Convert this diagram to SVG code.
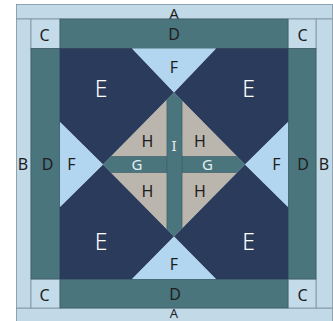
<svg xmlns="http://www.w3.org/2000/svg" width="333" height="321" viewBox="0 0 333 321">
<style>
.a{fill:#c2d9e8;stroke:#7d8f9c;stroke-width:0.8}
.c{fill:#c4dbea;stroke:#7d8f9c;stroke-width:0.8}
.d{fill:#4b757d;stroke:#3e5f68;stroke-width:0.8}
.e{fill:#2a3b5b;stroke:#2a3b5b;stroke-width:0.5}
.f{fill:#b2d6f0;stroke:none}
.h{fill:#bab6ae;stroke:#8a8a86;stroke-width:0.6}
.g{fill:#4b757d;stroke:#3e5f68;stroke-width:0.6}
text{font-family:"Noto Sans","Open Sans",sans-serif;font-size:16px;text-anchor:middle;fill:#1e1e1e}
.w{fill:#ffffff;font-size:23px;font-weight:300}
.lt{fill:#e4eef2}
.sm{font-size:15px}
.xs{font-size:13px}
</style>
<defs>
<clipPath id="dia"><polygon points="174,92.5 245,164.5 174,236.5 103,164.5"/></clipPath>
</defs>
<rect x="0" y="0" width="333" height="321" fill="#ffffff"/>
<g id="A-top"><rect class="a" x="16.5" y="4.5" width="316" height="14.5"/><text class="sm" x="174" y="18.5">A</text></g>
<g id="A-bottom"><rect class="a" x="16.5" y="308" width="316" height="16"/><text class="xs" x="174" y="318">A</text></g>
<g id="B-left"><rect class="a" x="16.5" y="19" width="14.5" height="289"/><text x="23" y="169.5">B</text></g>
<g id="B-right"><rect class="a" x="316" y="19" width="16.5" height="289"/><text x="324" y="169.5">B</text></g>
<g id="C-tl"><rect class="c" x="31" y="19" width="29" height="29.5"/><text x="44.5" y="41">C</text></g>
<g id="C-tr"><rect class="c" x="288" y="19" width="28" height="29.5"/><text x="302.5" y="41">C</text></g>
<g id="C-bl"><rect class="c" x="31" y="279" width="29" height="29"/><text x="44.5" y="301">C</text></g>
<g id="C-br"><rect class="c" x="288" y="279" width="28" height="29"/><text x="302.5" y="301">C</text></g>
<g id="D-top"><rect class="d" x="60" y="19" width="228" height="29.5"/><text x="174" y="39.5">D</text></g>
<g id="D-bottom"><rect class="d" x="60" y="279" width="228" height="29"/><text x="175" y="299.5">D</text></g>
<g id="D-left"><rect class="d" x="31" y="48.5" width="29" height="230.5"/><text x="47.5" y="169.5">D</text></g>
<g id="D-right"><rect class="d" x="288" y="48.5" width="28" height="230.5"/><text x="303" y="169.5">D</text></g>
<g id="E-tl"><polygon class="e" points="60,48.5 132,48.5 174,92.5 103,164.5 60,122"/><text class="w" x="101" y="97">E</text></g>
<g id="E-tr"><polygon class="e" points="216,48.5 288,48.5 288,122 245,164.5 174,92.5"/><text class="w" x="248.5" y="97">E</text></g>
<g id="E-bl"><polygon class="e" points="60,207 103,164.5 174,236.5 132,279 60,279"/><text class="w" x="101" y="250">E</text></g>
<g id="E-br"><polygon class="e" points="245,164.5 288,207 288,279 216,279 174,236.5"/><text class="w" x="248.5" y="250">E</text></g>
<g id="F-top"><polygon class="f" points="132,48.5 216,48.5 174,92.5"/><text x="174" y="72.5">F</text></g>
<g id="F-left"><polygon class="f" points="60,122 60,207 103,164.5"/><text x="71.5" y="170">F</text></g>
<g id="F-right"><polygon class="f" points="288,122 288,207 245,164.5"/><text x="276.5" y="170">F</text></g>
<g id="F-bottom"><polygon class="f" points="132,279 216,279 174,236.5"/><text x="174" y="269.5">F</text></g>
<g clip-path="url(#dia)">
<g id="H-tl"><rect class="h" x="100" y="90" width="67" height="66.5"/></g>
<g id="H-tr"><rect class="h" x="182" y="90" width="66" height="66.5"/></g>
<g id="H-bl"><rect class="h" x="100" y="172.5" width="67" height="67"/></g>
<g id="H-br"><rect class="h" x="182" y="172.5" width="66" height="67"/></g>
<g id="G-left"><rect class="g" x="100" y="156.5" width="67" height="16"/></g>
<g id="G-right"><rect class="g" x="182" y="156.5" width="66" height="16"/></g>
<g id="I"><rect class="g" x="167" y="90" width="15" height="150"/></g>
</g>
<g id="labels-center">
<text x="147.5" y="146.5">H</text>
<text x="200" y="146.5">H</text>
<text x="147.5" y="196.5">H</text>
<text x="200" y="196.5">H</text>
<text class="lt sm" x="137" y="169.5">G</text>
<text class="lt sm" x="207.5" y="169.5">G</text>
<text class="lt sm" x="174" y="151">I</text>
</g>
</svg>
